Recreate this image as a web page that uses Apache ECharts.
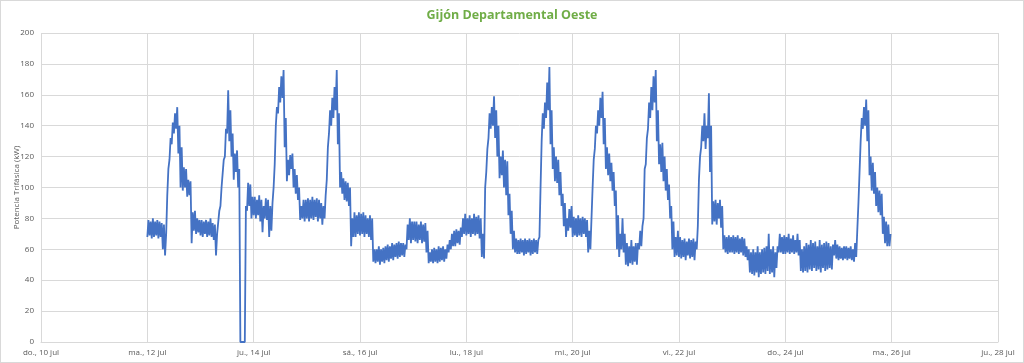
<!DOCTYPE html>
<html>
<head>
<meta charset="utf-8">
<script src="https://cdn.jsdelivr.net/npm/echarts@6/dist/echarts.min.js"></script>
<style>
html,body{margin:0;padding:0;background:#fff;}
#wrap{width:1024px;height:363px;box-sizing:border-box;border:1px solid #d9d9d9;position:relative;}
#chart{position:absolute;left:-1px;top:-1px;width:1024px;height:363px;}
</style>
</head>
<body>
<div id="wrap"><div id="chart"></div></div>
<script>
// Chart title and axis
const chartTitle = "Gijón Departamental Oeste";
const yAxisName = "Potencia Trifásica (kW)";
// X tick labels, one every 2 days (day index 0 = do., 10 jul)
const tickLabels = ["do., 10 jul","ma., 12 jul","ju., 14 jul","sá., 16 jul","lu., 18 jul","mi., 20 jul","vi., 22 jul","do., 24 jul","ma., 26 jul","ju., 28 jul"];
// First data day index (12 jul); values are half-hourly readings (kW), 48 per day
const firstDay = 2;
const jul12 = [68,79, 69,78, 67,80, 68,78, 69,79, 67,78, 68,77, 60,76, 56,70, 95,112, 118,132, 128,142, 135,148, 138,152, 122,140, 100,126, 98,113, 100,112, 94,105, 95,104, 64,84, 72,85, 70,80, 71,79];
const jul13 = [69,79, 68,78, 70,79, 68,78, 69,80, 68,77, 66,76, 56,70, 70,85, 88,100, 100,118, 120,138, 135,163, 130,150, 120,135, 105,122, 110,124, 100,112, 0,0, 0,0, 0,88, 85,103, 88,102, 80,94];
const jul14 = [82,94, 80,92, 82,95, 78,92, 71,88, 80,93, 79,92, 68,88, 72,90, 100,115, 140,152, 148,165, 155,172, 158,176, 126,145, 104,118, 108,121, 112,122, 100,112, 96,108, 92,100, 79,88, 80,92, 78,92];
const jul15 = [80,93, 78,92, 80,94, 79,92, 81,93, 78,92, 80,90, 76,88, 80,95, 105,126, 135,150, 140,158, 145,165, 150,176, 128,148, 100,110, 96,106, 92,104, 91,103, 88,100, 62,80, 68,84, 68,82, 70,84];
const jul16 = [69,83, 70,84, 68,82, 70,80, 68,82, 66,80, 52,60, 51,60, 52,62, 50,60, 52,61, 51,62, 53,63, 52,62, 54,64, 53,63, 55,64, 54,65, 55,64, 56,64, 55,63, 60,76, 66,80, 64,78];
const jul17 = [66,78, 65,78, 64,76, 66,78, 64,76, 65,77, 58,72, 51,58, 52,60, 51,61, 52,60, 51,62, 52,61, 53,62, 52,60, 54,63, 58,66, 60,70, 62,72, 62,73, 64,72, 63,74, 68,80, 70,83];
const jul18 = [69,80, 70,82, 68,80, 70,83, 69,81, 70,82, 67,80, 55,70, 54,100, 110,125, 132,148, 138,152, 140,159, 132,150, 120,140, 106,120, 108,124, 100,118, 95,117, 82,96, 70,85, 60,72, 58,67, 57,66];
const jul19 = [57,67, 58,66, 56,67, 57,66, 58,67, 56,66, 57,67, 58,66, 57,66, 68,100, 130,148, 138,155, 145,168, 150,178, 128,150, 112,126, 104,120, 103,118, 95,110, 88,96, 75,90, 68,80, 72,86, 74,88];
const jul20 = [68,81, 69,80, 68,82, 69,80, 68,81, 70,80, 68,79, 58,72, 60,80, 100,118, 125,140, 135,150, 140,158, 145,162, 128,145, 112,126, 108,122, 104,116, 98,110, 88,98, 60,82, 55,70, 60,80, 58,70];
const jul21 = [50,64, 49,62, 51,66, 50,62, 52,64, 50,64, 60,72, 62,75, 80,112, 115,132, 138,155, 145,165, 150,172, 155,176, 130,150, 115,128, 110,129, 104,120, 98,112, 92,102, 80,88, 60,78, 55,68, 56,72];
const jul22 = [55,68, 54,66, 55,67, 53,65, 56,67, 54,66, 55,67, 53,65, 60,75, 105,120, 126,140, 130,148, 125,140, 132,161, 110,140, 76,91, 78,92, 76,90, 80,92, 74,88, 60,69, 58,68, 57,69, 58,68];
const jul23 = [58,69, 57,68, 58,69, 57,67, 58,68, 56,67, 55,62, 53,60, 45,58, 44,60, 43,58, 45,62, 42,58, 44,60, 45,61, 44,62, 46,70, 44,60, 45,62, 42,58, 48,62, 58,70, 58,68, 57,69];
const jul24 = [57,68, 58,70, 57,67, 58,69, 57,66, 58,70, 56,66, 46,60, 45,62, 46,64, 45,63, 47,66, 46,64, 48,65, 46,62, 47,66, 45,63, 48,64, 46,65, 47,64, 48,62, 47,63, 56,66, 54,63];
const jul25 = [53,62, 54,61, 53,62, 54,62, 53,61, 54,62, 53,60, 52,64, 55,73, 90,110, 130,145, 138,152, 140,157, 130,150, 108,120, 98,116, 96,110, 88,100, 84,98, 82,96, 70,81, 64,78, 62,76, 62,70];

const days = [jul12,jul13,jul14,jul15,jul16,jul17,jul18,jul19,jul20,jul21,jul22,jul23,jul24,jul25];
const seriesData = [];
days.forEach((arr, di) => {
  arr.forEach((v, k) => { seriesData.push([firstDay + di + k / 48, v]); });
});

const chart = echarts.init(document.getElementById('chart'), null, {renderer:'canvas'});
const axisFont = {fontFamily:'Open Sans, sans-serif', fontSize:8, color:'#595959'};
chart.setOption({
  animation:false,
  backgroundColor:'transparent',
  title:{
    text: chartTitle, left:'center', top:4,
    textStyle:{color:'#70AD47', fontWeight:'bold', fontSize:12.5, fontFamily:'Open Sans, sans-serif'}
  },
  grid:{left:41, right:26, top:33, bottom:21, containLabel:false, outerBoundsMode:'none'},
  xAxis:{
    type:'value', min:0, max:18, interval:2,
    axisLine:{show:true, lineStyle:{color:'#d9d9d9', width:1}},
    axisTick:{show:false},
    splitLine:{show:true, lineStyle:{color:'#d9d9d9', width:1}},
    axisLabel:Object.assign({margin:7, formatter:(v)=>tickLabels[Math.round(v/2)]||''}, axisFont)
  },
  yAxis:{
    type:'value', min:0, max:200, interval:20,
    name: yAxisName, nameLocation:'middle', nameGap:20, nameMoveOverlap:false,
    nameTextStyle:{fontFamily:'Open Sans, sans-serif', fontSize:8, color:'#595959'},
    axisLine:{show:false}, axisTick:{show:false},
    splitLine:{show:true, lineStyle:{color:'#d9d9d9', width:1}},
    axisLabel:Object.assign({margin:7}, axisFont)
  },
  series:[{
    type:'line', data:seriesData, showSymbol:false, symbol:'none',
    lineStyle:{color:'#4472C4', width:1.8}, itemStyle:{color:'#4472C4'}
  }]
});
</script>
</body>
</html>
